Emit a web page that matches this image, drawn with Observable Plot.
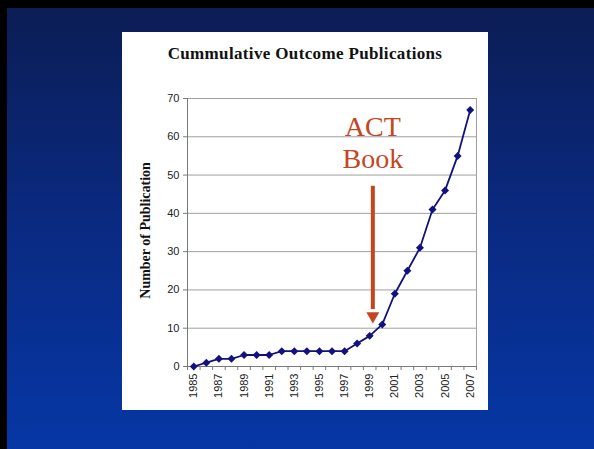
<!DOCTYPE html>
<html><head><meta charset="utf-8">
<script src="https://cdn.jsdelivr.net/npm/d3@7"></script>
<script src="https://cdn.jsdelivr.net/npm/@observablehq/plot@0.6"></script>
<style>
html,body{margin:0;padding:0;}
body{width:594px;height:449px;overflow:hidden;background:#000;position:relative;}
#bg{position:absolute;left:7px;top:8px;right:0;bottom:0;background:linear-gradient(to bottom,#0b1d55 0%,#0a2a82 50%,#0637a5 100%);}
#panel{position:absolute;left:122px;top:32px;width:366px;height:378px;background:#fff;}
#title{height:50px;box-sizing:border-box;padding-top:12px;text-align:center;font:bold 17px/20px "Liberation Serif",serif;letter-spacing:0.35px;color:#111;}
#chart svg{display:block;}
</style></head><body>
<div id="bg"></div>
<div id="panel"><div id="title">Cummulative Outcome Publications</div><div id="chart"></div></div>
<script>
const years = [1985,1986,1987,1988,1989,1990,1991,1992,1993,1994,1995,1996,1997,1998,1999,2000,2001,2002,2003,2004,2005,2006,2007];
const publications = [0,1,2,2,3,3,3,4,4,4,4,4,4,6,8,11,19,25,31,41,46,55,67];
const yTicks = [0,10,20,30,40,50,60,70];
const xTickLabels = [1985,1987,1989,1991,1993,1995,1997,1999,2001,2003,2005,2007];
const yLabel = "Number of Publications";
const annotationLines = ["ACT","Book"];
const annotationValues = [62.6,54.1];
const annotationYear = 1999.25;
const arrowFrom = 47.2;
const arrowTo = 15;
const arrowTip = 13.2;

const data = years.map((y,i)=>({year:y,count:publications[i]}));
const boundaries = years.map(y=>y-0.5).concat([years[years.length-1]+0.5]);
const red = "#c4461f";
const navy = "#12127e";

const plot = Plot.plot({
  width: 366, height: 328,
  marginTop: 16, marginBottom: 44, marginLeft: 65, marginRight: 12,
  style: {background:"#fff", fontFamily:"Arial, 'Liberation Sans', sans-serif"},
  x: {type:"linear", domain:[boundaries[0], boundaries[boundaries.length-1]]},
  y: {domain:[0,70]},
  marks: [
    Plot.gridY(yTicks, {stroke:"#a0a0a0", strokeOpacity:1}),
    Plot.ruleX([boundaries[boundaries.length-1]], {stroke:"#a0a0a0"}),
    Plot.ruleY([0], {stroke:"#7a7a7a"}),
    Plot.ruleX([boundaries[0]], {stroke:"#7a7a7a"}),
    Plot.axisY(yTicks, {tickSize:4, tickPadding:4, fontSize:11, fill:"#222", stroke:"#7a7a7a", label:null}),
    Plot.axisX(boundaries, {tickSize:4, tickFormat:()=>"", stroke:"#7a7a7a", label:null}),
    Plot.axisX(xTickLabels, {tickSize:0, tickPadding:7, tickRotate:-90, fontSize:11, fill:"#222", tickFormat:d=>String(d), label:null}),
    Plot.text([yLabel], {frameAnchor:"left", y:()=>17.7, text:d=>d, rotate:-90, textAnchor:"start", dx:-42, fontSize:14, fontWeight:"bold", fontFamily:"'Liberation Serif', serif", fill:"#111", className:"ylab"}),
    Plot.line(data, {x:"year", y:"count", stroke:navy, strokeWidth:1.8}),
    Plot.dot(data, {x:"year", y:"count", symbol:"diamond2", r:3.6, fill:navy, stroke:"none"}),
    Plot.link([0], {x1:()=>annotationYear, x2:()=>annotationYear, y1:()=>arrowFrom, y2:()=>arrowTo, stroke:red, strokeWidth:4}),
    Plot.dot([0], {x:()=>annotationYear, y:()=>arrowTip, symbol:"triangle", r:4.8, rotate:180, fill:red, stroke:"none"}),
    Plot.text(annotationLines, {x:()=>annotationYear, y:(d,i)=>annotationValues[i], text:d=>d, fontSize:28, fontFamily:"'Liberation Serif', serif", fill:red})
  ]
});
document.getElementById("chart").appendChild(plot);

// clip the y-axis title at its top, as in the reference
const svg = d3.select(plot);
const clipId = "ylab-clip";
svg.append("defs").append("clipPath").attr("id", clipId)
  .append("rect").attr("x",0).attr("y",81).attr("width",64).attr("height",250);
const lab = svg.select("g.ylab");
if (!lab.empty()) {
  const node = lab.node();
  const wrap = document.createElementNS("http://www.w3.org/2000/svg","g");
  wrap.setAttribute("clip-path", `url(#${clipId})`);
  node.parentNode.insertBefore(wrap, node);
  wrap.appendChild(node);
}
</script>
</body></html>
